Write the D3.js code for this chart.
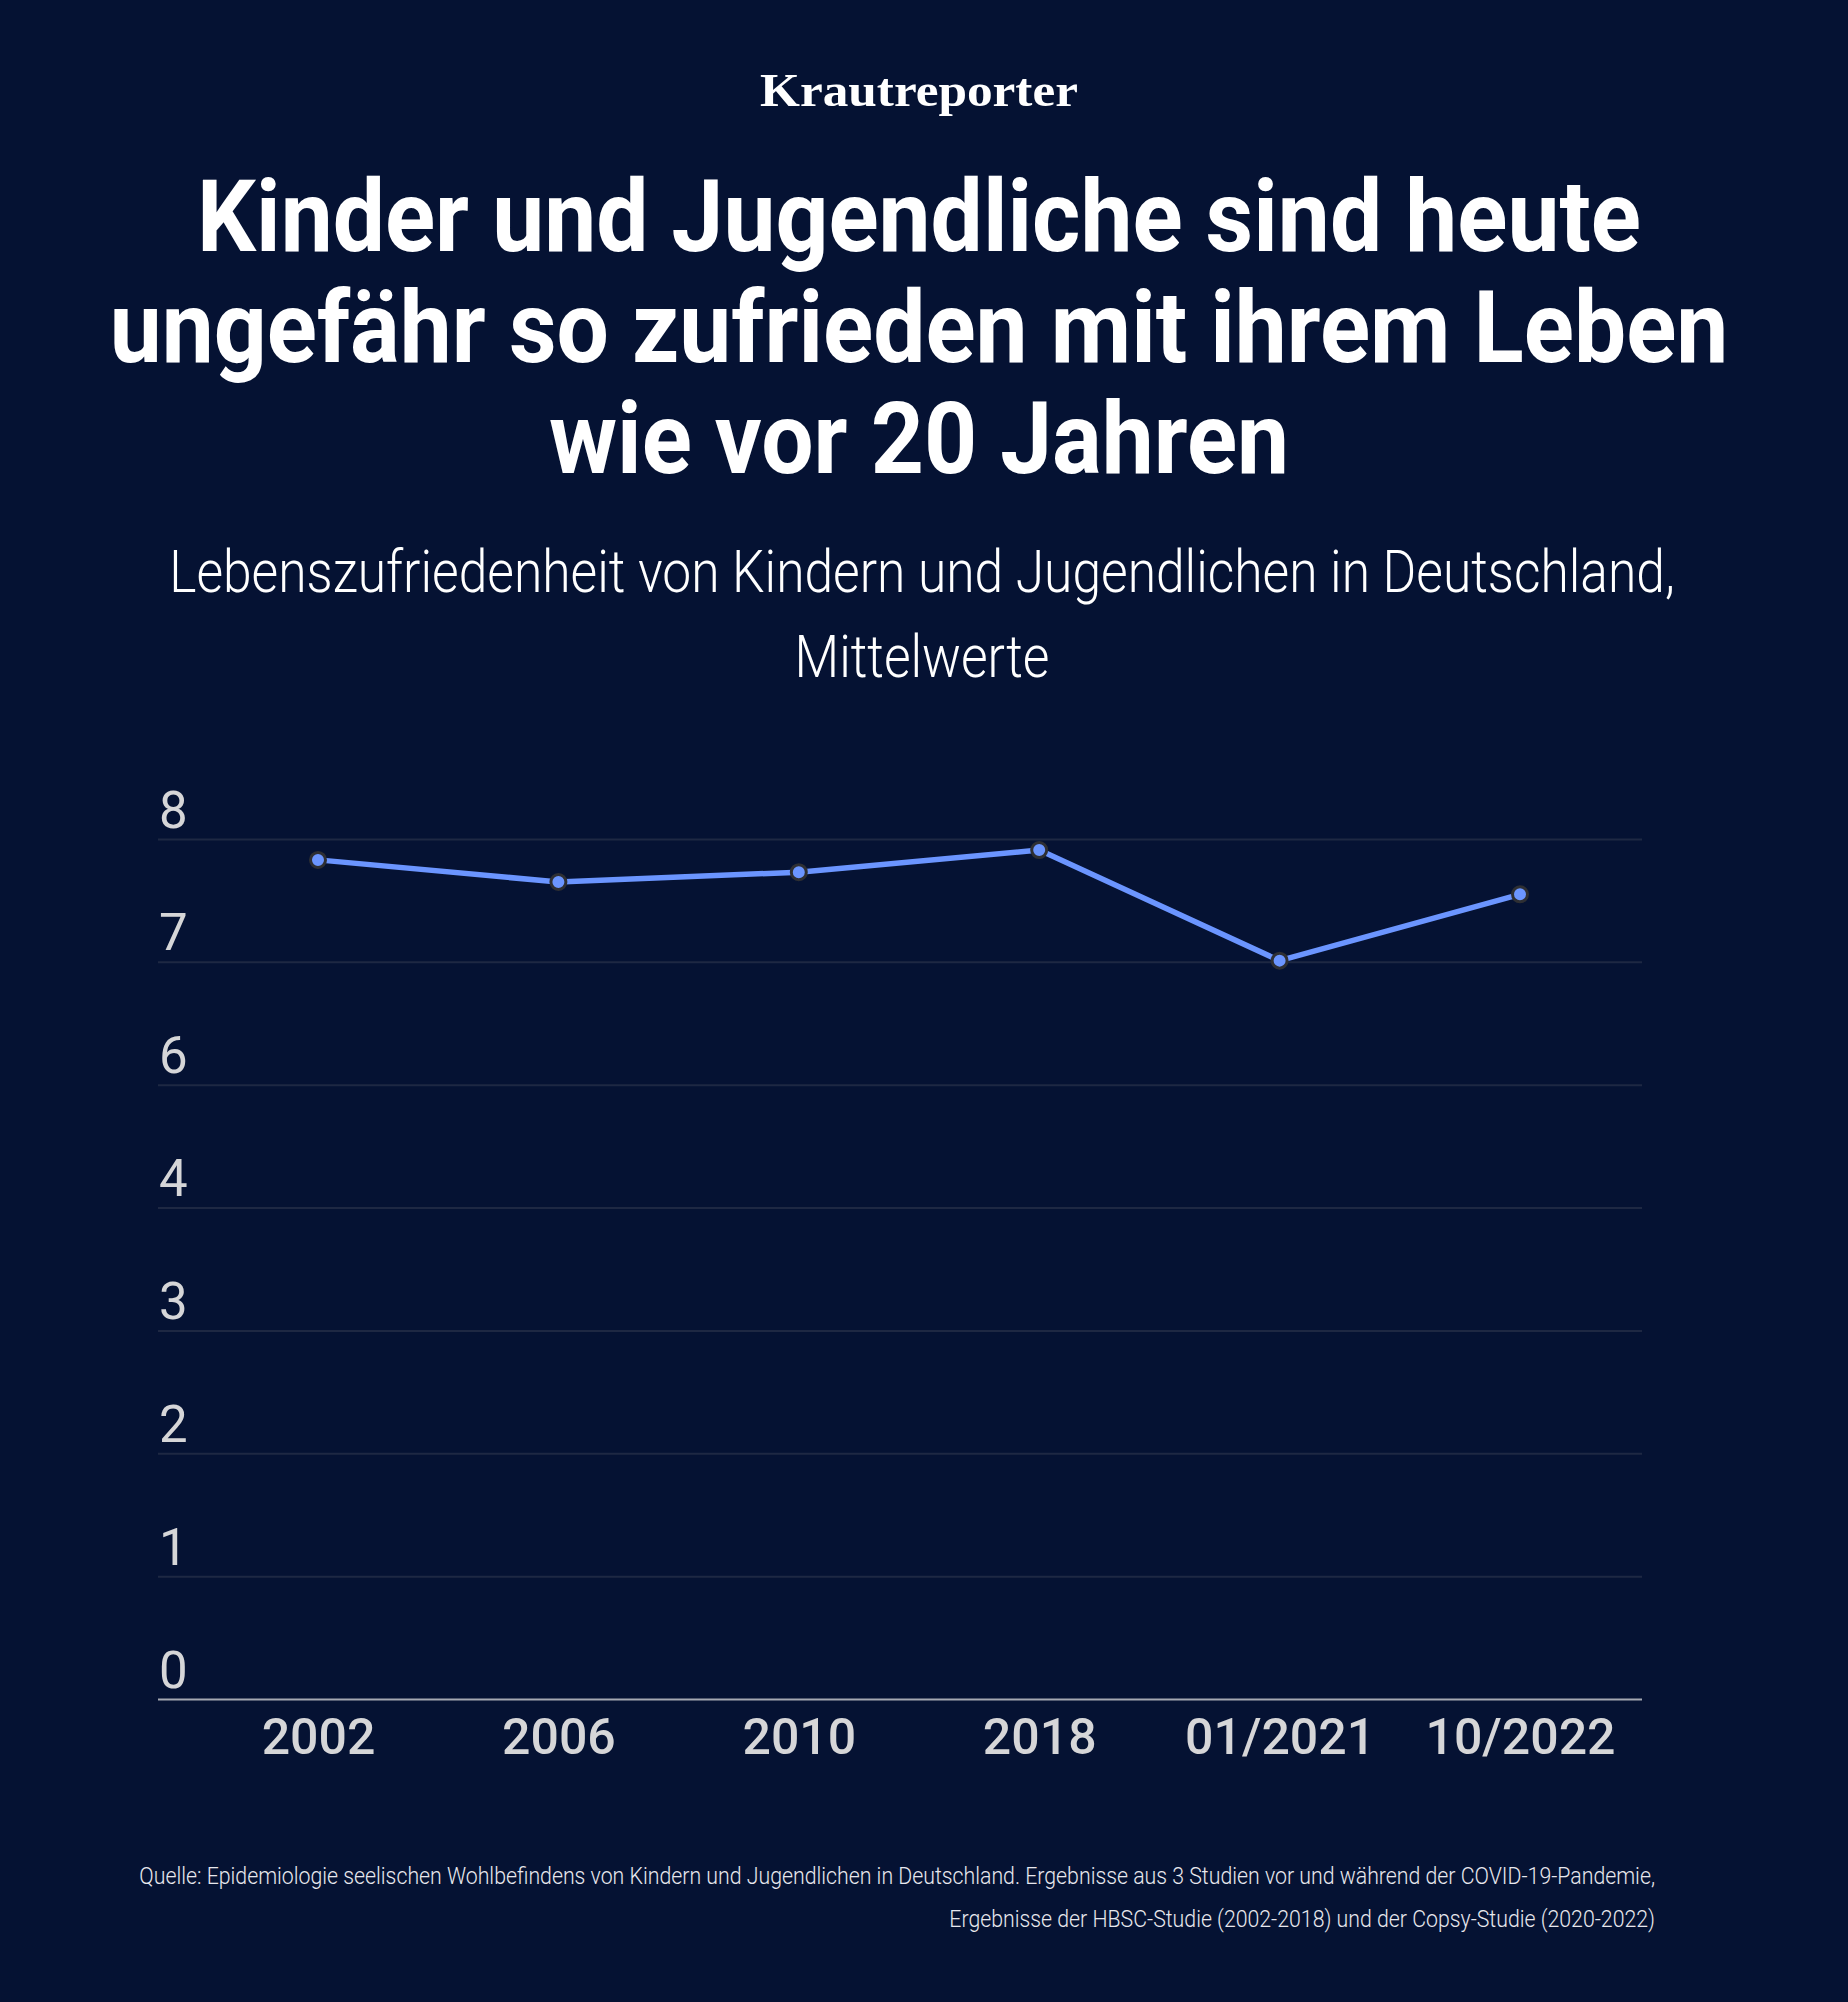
<!DOCTYPE html>
<html>
<head>
<meta charset="utf-8">
<script src="https://cdn.jsdelivr.net/npm/d3@7"></script>
<style>
  html, body { margin: 0; padding: 0; background: #051233; }
  svg { display: block; }
</style>
</head>
<body>
<div id="chart"></div>
<script>
// Daten
const categories = ["2002", "2006", "2010", "2018", "01/2021", "10/2022"];
const values = [7.83, 7.65, 7.73, 7.91, 7.01, 7.55];
const yTickValues = [1, 2, 3, 4, 5, 6, 7, 8];
const yTickLabels = ["0", "1", "2", "3", "4", "6", "7", "8"];

const titleLines = [
  "Kinder und Jugendliche sind heute",
  "ungefähr so zufrieden mit ihrem Leben",
  "wie vor 20 Jahren"
];
const subtitleLines = [
  "Lebenszufriedenheit von Kindern und Jugendlichen in Deutschland,",
  "Mittelwerte"
];
const sourceLines = [
  "Quelle: Epidemiologie seelischen Wohlbefindens von Kindern und Jugendlichen in Deutschland. Ergebnisse aus 3 Studien vor und während der COVID-19-Pandemie,",
  "Ergebnisse der HBSC-Studie (2002-2018) und der Copsy-Studie (2020-2022)"
];

function renderChart(containerId) {
  const width = 1848, height = 2002;
  const bg = "#051233";
  const lineColor = "#6b95ff";
  const gridColor = "#1e2843";
  const baseColor = "#a5a8b2";
  const labelColor = "#d6d6d8";
  const cx = 919;

  const svg = d3.select(containerId)
    .append("svg")
    .attr("width", width)
    .attr("height", height);

  svg.append("rect")
    .attr("width", width)
    .attr("height", height)
    .attr("fill", bg);

  // Textblock: schmale Schrift im Original -> horizontal skalieren
  function textBlock(lines, opts) {
    const groups = svg.selectAll(null)
      .data(lines)
      .enter()
      .append("g")
      .attr("transform", (d, i) => `translate(${opts.x},${opts.y + i * opts.lh})`);
    const texts = groups.append("text")
      .attr("x", 0)
      .attr("y", 0)
      .attr("text-anchor", opts.anchor)
      .attr("font-family", opts.family)
      .attr("font-weight", opts.weight)
      .attr("font-size", opts.size + "px")
      .attr("fill", opts.fill)
      .text(d => d);
    const f = opts.firstWidth / texts.nodes()[0].getComputedTextLength();
    groups.attr("transform", (d, i) => `translate(${opts.x},${opts.y + i * opts.lh}) scale(${f},1)`);
  }

  // Logo
  textBlock(["Krautreporter"], {
    x: cx, y: 106, lh: 0, anchor: "middle",
    family: "'Liberation Serif', 'DejaVu Serif', serif", weight: 700,
    size: 47, fill: "#ffffff", firstWidth: 318
  });

  // Titel
  textBlock(titleLines, {
    x: cx, y: 251, lh: 111, anchor: "middle",
    family: "Roboto, sans-serif", weight: 700,
    size: 100, fill: "#ffffff", firstWidth: 1444
  });

  // Untertitel
  textBlock(subtitleLines, {
    x: 922, y: 592, lh: 85, anchor: "middle",
    family: "Roboto, sans-serif", weight: 300,
    size: 59, fill: "#ffffff", firstWidth: 1506
  });

  // Diagramm
  const plot = { left: 158, right: 1642, top: 839, bottom: 1699 };

  const x = d3.scalePoint()
    .domain(categories)
    .range([318, 1520]);

  const y = d3.scaleLinear()
    .domain([1, 8])
    .range([plot.bottom, plot.top]);

  const yAxis = svg.append("g")
    .attr("transform", `translate(${plot.left},0)`)
    .call(d3.axisRight(y)
      .tickValues(yTickValues)
      .tickSize(plot.right - plot.left)
      .tickFormat((d, i) => yTickLabels[i]));

  yAxis.select(".domain").remove();
  yAxis.selectAll(".tick line")
    .attr("stroke", d => d === yTickValues[0] ? baseColor : gridColor)
    .attr("stroke-width", 2);
  yAxis.selectAll(".tick text")
    .attr("x", 1)
    .attr("y", -12)
    .attr("dy", 0)
    .attr("text-anchor", "start")
    .attr("font-family", "Roboto, sans-serif")
    .attr("font-weight", 400)
    .attr("font-size", "51px")
    .attr("fill", labelColor);

  const xAxis = svg.append("g")
    .attr("transform", `translate(0,${plot.bottom})`)
    .call(d3.axisBottom(x).tickSize(0));

  xAxis.select(".domain").remove();
  xAxis.selectAll(".tick text")
    .attr("y", 55)
    .attr("dy", 0)
    .attr("font-family", "Roboto, sans-serif")
    .attr("font-weight", 500)
    .attr("font-size", "50px")
    .attr("fill", labelColor);

  const line = d3.line()
    .x((d, i) => x(categories[i]))
    .y(d => y(d));

  svg.append("path")
    .datum(values)
    .attr("fill", "none")
    .attr("stroke", lineColor)
    .attr("stroke-width", 5.5)
    .attr("stroke-linejoin", "round")
    .attr("d", line);

  svg.selectAll(".dot")
    .data(values)
    .enter()
    .append("circle")
    .attr("class", "dot")
    .attr("cx", (d, i) => x(categories[i]))
    .attr("cy", d => y(d))
    .attr("r", 7.5)
    .attr("fill", lineColor)
    .attr("stroke", "#2e2f33")
    .attr("stroke-width", 3);

  // Quelle
  textBlock(sourceLines, {
    x: 1655, y: 1884, lh: 43, anchor: "end",
    family: "Roboto, sans-serif", weight: 300,
    size: 23, fill: "#e8e8ee", firstWidth: 1516
  });
}

renderChart("#chart");
</script>
</body>
</html>
